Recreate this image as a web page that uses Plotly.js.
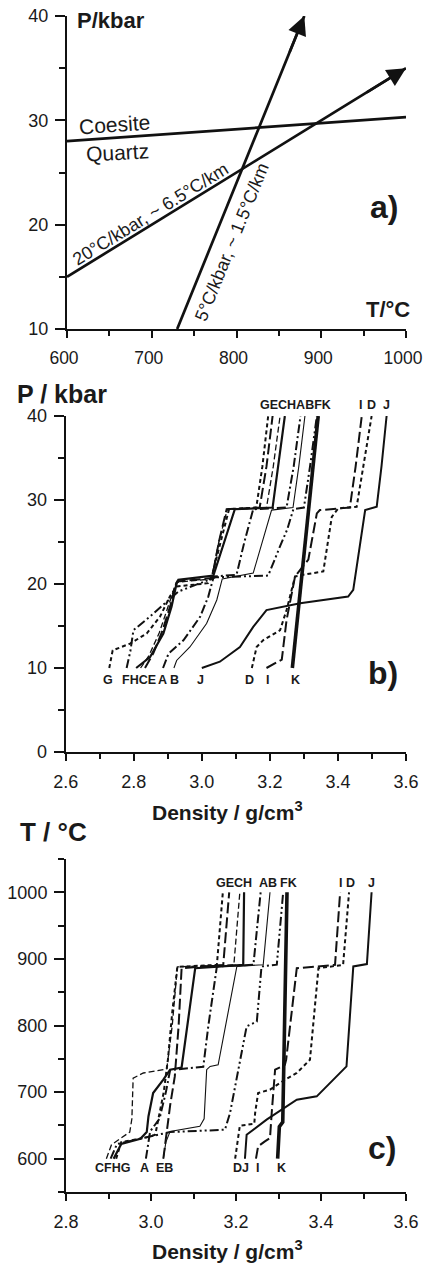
<!DOCTYPE html>
<html><head><meta charset="utf-8">
<script src="https://cdn.plot.ly/plotly-3.0.1.min.js"></script>
<style>html,body{margin:0;padding:0;background:#fff}</style>
</head><body><div id="chart" style="width:423px;height:1263px"></div>
<script>
// ---------- Panel a: P-T diagram ----------
const coesiteT = [600, 1000];
const coesiteP = [28, 30.3];
const geo20T = [600, 1000];
const geo20P = [15, 35];
const geo5T = [730, 880];
const geo5P = [10, 40];

// ---------- Panel b: density vs pressure ----------
const bA_rho = [2.886, 2.902, 2.946, 2.995, 3.019, 3.029, 3.035, 3.102, 3.125, 3.151, 3.249, 3.270, 3.290];
const bA_P   = [10, 11.7, 13.3, 16.1, 18.5, 20.1, 20.9, 21.1, 25, 28.9, 29.1, 34, 40];
const bB_rho = [2.918, 2.926, 2.965, 3.014, 3.044, 3.053, 3.06, 3.151, 3.178, 3.205, 3.268, 3.285, 3.303];
const bB_P   = [10, 10.9, 12.5, 15.3, 18.1, 19.7, 20.6, 21.3, 25, 28.8, 29.1, 34, 40];
const bC_rho = [2.82, 2.845, 2.875, 2.9, 2.915, 2.925, 3.028, 3.05, 3.075, 3.19, 3.21, 3.23];
const bC_P   = [10, 11.5, 14.2, 17.2, 19.2, 20.2, 20.6, 25, 28.9, 29.1, 34, 40];
const bD_rho = [3.147, 3.161, 3.18, 3.23, 3.249, 3.274, 3.298, 3.357, 3.382, 3.401, 3.455, 3.475, 3.499];
const bD_P   = [10, 12.5, 13.3, 14.5, 16.9, 20.9, 21.1, 21.5, 28, 29, 29.2, 34, 40];
const bE_rho = [2.833, 2.858, 2.885, 2.908, 2.92, 2.928, 3.03, 3.05, 3.073, 3.17, 3.19, 3.208];
const bE_P   = [10, 11.8, 14.5, 17.5, 19.5, 20.3, 20.7, 25, 28.9, 29.1, 34, 40];
const bF_rho = [2.779, 2.79, 2.799, 2.85, 2.897, 2.931, 3.04, 3.195, 3.23, 3.251, 3.269, 3.30, 3.318, 3.338];
const bF_P   = [10, 12, 14.5, 16.2, 17.9, 19.1, 20.8, 21.0, 24.5, 26.5, 28.9, 29.1, 34, 40];
const bG_rho = [2.728, 2.738, 2.789, 2.838, 2.877, 2.906, 2.926, 3.019, 3.03, 3.055, 3.08, 3.16, 3.178, 3.195];
const bG_P   = [10, 12.1, 12.9, 14.1, 16.1, 18.5, 19.7, 20.1, 21, 25, 28.9, 29.1, 34, 40];
const bH_rho = [2.807, 2.848, 2.887, 2.911, 2.926, 2.931, 3.034, 3.065, 3.097, 3.208, 3.225, 3.244];
const bH_P   = [10, 11.3, 14.1, 17.3, 20.1, 20.5, 21.0, 25, 28.9, 29.1, 34, 40];
const bI_rho = [3.19, 3.235, 3.249, 3.274, 3.313, 3.338, 3.347, 3.435, 3.452, 3.47];
const bI_P   = [10, 11, 15.7, 20.9, 22.9, 28.4, 28.8, 29.1, 34, 40];
const bJ_rho = [3.0, 3.053, 3.112, 3.151, 3.19, 3.289, 3.43, 3.445, 3.48, 3.514, 3.528, 3.543];
const bJ_P   = [10, 10.75, 12.5, 14.9, 16.9, 17.7, 18.5, 19.3, 28.8, 29.2, 34, 40];
const bK_rho = [3.266, 3.304, 3.342];
const bK_P   = [10, 25, 40];

// ---------- Panel c: density vs temperature ----------
const cA_rho = [2.988, 2.994, 2.998, 3.02, 3.035, 3.045, 3.123, 3.135, 3.155, 3.241, 3.258];
const cA_T   = [600, 625, 641, 660, 700, 733, 738, 800, 888.7, 891.3, 1000];
const cB_rho = [3.029, 3.035, 3.045, 3.115, 3.125, 3.131, 3.139, 3.158, 3.202, 3.264, 3.28];
const cB_T   = [600, 625, 641, 648.6, 660, 733.6, 738.6, 741, 888.7, 891.3, 1000];
const cC_rho = [2.895, 2.907, 2.95, 2.955, 2.958, 2.982, 3.037, 3.05, 3.062, 3.195, 3.209];
const cC_T   = [600, 621, 640, 660, 721, 728.7, 734.7, 800, 888, 891, 1000];
const cD_rho = [3.198, 3.209, 3.243, 3.245, 3.252, 3.28, 3.315, 3.343, 3.374, 3.394, 3.452, 3.466];
const cD_T   = [600, 649.5, 652.5, 668.6, 698.6, 703.6, 718.6, 728.7, 748.6, 886, 891, 1000];
const cE_rho = [3.029, 3.033, 3.037, 3.045, 3.056, 3.065, 3.072, 3.17, 3.184];
const cE_T   = [600, 620, 633, 680, 723.6, 800, 886, 891, 1000];
const cF_rho = [2.905, 2.92, 2.96, 3.0, 3.045, 3.174, 3.186, 3.225, 3.249, 3.26, 3.296, 3.311];
const cF_T   = [600, 622, 628, 634, 640, 643.5, 668.6, 798.6, 806, 888.7, 891.3, 1000];
const cG_rho = [2.918, 2.93, 2.99, 3.01, 3.03, 3.04, 3.05, 3.062, 3.155, 3.169];
const cG_T   = [600, 625, 632, 636, 700, 750, 820, 888, 891, 1000];
const cH_rho = [2.912, 2.93, 2.975, 2.99, 2.994, 3.005, 3.029, 3.045, 3.072, 3.104, 3.217, 3.219];
const cH_T   = [600, 622, 630, 640, 663.5, 698.6, 718.6, 733.6, 737, 886, 891, 1000];
const cI_rho = [3.247, 3.249, 3.252, 3.268, 3.28, 3.284, 3.292, 3.315, 3.318, 3.343, 3.433, 3.445];
const cI_T   = [600, 608.6, 618.5, 626, 631, 668.6, 733.6, 741, 748.6, 886, 891, 1000];
const cJ_rho = [3.221, 3.225, 3.272, 3.343, 3.39, 3.46, 3.476, 3.508, 3.519];
const cJ_T   = [600, 636, 658.6, 688.6, 693.6, 738.6, 888.7, 892.3, 1000];
const cK_rho = [3.298, 3.302, 3.31, 3.32];
const cK_T   = [600, 648, 655, 1000];

// ---------- styles ----------
const FONT = "Liberation Sans, Arial, Helvetica, sans-serif";
const styles = {
  A: {width: 2.0, dash: "9px,3px,2px,3px"},
  B: {width: 1.1, dash: "solid"},
  C: {width: 1.3, dash: "6px,3px"},
  D: {width: 2.0, dash: "4px,3px"},
  E: {width: 2.0, dash: "11px,4px"},
  F: {width: 2.0, dash: "9px,3px,2px,3px,2px,3px"},
  G: {width: 2.0, dash: "4px,3px"},
  H: {width: 2.2, dash: "solid"},
  I: {width: 2.0, dash: "11px,4px"},
  J: {width: 2.0, dash: "solid"},
  K: {width: 3.6, dash: "solid"}
};

const traces = [];
function line(x, y, xa, ya, st) {
  traces.push({x: x, y: y, xaxis: xa, yaxis: ya, type: "scatter", mode: "lines",
    line: {color: "#111", width: st.width, dash: st.dash}, hoverinfo: "skip", showlegend: false});
}
const thick = {width: 2.7, dash: "solid"};
line(coesiteT, coesiteP, "x", "y", thick);
line(geo20T, geo20P, "x", "y", thick);
line(geo5T, geo5P, "x", "y", thick);

const bData = {A:[bA_rho,bA_P],B:[bB_rho,bB_P],C:[bC_rho,bC_P],D:[bD_rho,bD_P],E:[bE_rho,bE_P],
  F:[bF_rho,bF_P],G:[bG_rho,bG_P],H:[bH_rho,bH_P],I:[bI_rho,bI_P],J:[bJ_rho,bJ_P],K:[bK_rho,bK_P]};
const cData = {A:[cA_rho,cA_T],B:[cB_rho,cB_T],C:[cC_rho,cC_T],D:[cD_rho,cD_T],E:[cE_rho,cE_T],
  F:[cF_rho,cF_T],G:[cG_rho,cG_T],H:[cH_rho,cH_T],I:[cI_rho,cI_T],J:[cJ_rho,cJ_T],K:[cK_rho,cK_T]};
Object.keys(bData).forEach(k => line(bData[k][0], bData[k][1], "x2", "y2", styles[k]));
Object.keys(cData).forEach(k => line(cData[k][0], cData[k][1], "x3", "y3", styles[k]));

// ---------- axes ----------
const tickFont = {family: FONT, size: 18, color: "#1a1a1a"};
function xax(range, dtick, minor, dom, anchor) {
  return {range: range, domain: dom, anchor: anchor, dtick: dtick, tick0: range[0],
    ticks: "outside", ticklen: 7, tickwidth: 2, tickcolor: "#111",
    minor: {dtick: minor, ticks: "outside", ticklen: 5, tickwidth: 2, tickcolor: "#111"},
    showline: true, linewidth: 2, linecolor: "#111", showgrid: false, zeroline: false,
    tickfont: tickFont, ticklabelstandoff: 5, ticklabeloverflow: "allow", fixedrange: true};
}
function yax(range, dtick, tick0, minor, dom, anchor) {
  return {range: range, domain: dom, anchor: anchor, dtick: dtick, tick0: tick0,
    ticks: "outside", ticklen: 10, tickwidth: 2, tickcolor: "#111",
    minor: {dtick: minor, tick0: tick0, ticks: "outside", ticklen: 6, tickwidth: 2, tickcolor: "#111"},
    showline: true, linewidth: 2, linecolor: "#111", showgrid: false, zeroline: false,
    tickfont: tickFont, ticklabelstandoff: 3, ticklabeloverflow: "allow", fixedrange: true};
}
const xdA = [67/423, 406/423], ydA = [1 - 329/1263, 1 - 16/1263];
const xdB = [65.7/423, 406/423], ydB = [1 - 752/1263, 1 - 416/1263];
const xdC = [66/423, 406/423], ydC = [1 - 1192/1263, 1 - 859/1263];

// ---------- annotations ----------
const ann = [];
function txt(s, px, py, size, opts) {
  ann.push(Object.assign({text: s, x: px/423, y: 1 - py/1263, xref: "paper", yref: "paper",
    showarrow: false, xanchor: "center", yanchor: "middle",
    font: {family: FONT, size: size, color: "#1a1a1a"}}, opts || {}));
}
// arrow heads at geotherm ends (computed from data)
function arrowHead(T, P) {
  const n = T.length - 1;
  ann.push({x: T[n], y: P[n], xref: "x", yref: "y", axref: "x", ayref: "y",
    ax: T[n] - 0.12 * (T[n] - T[0]), ay: P[n] - 0.12 * (P[n] - P[0]),
    text: "", showarrow: true, arrowhead: 2, arrowsize: 1.45, arrowwidth: 2.6, arrowcolor: "#111"});
}
arrowHead(geo20T, geo20P);
arrowHead(geo5T, geo5P);

txt("<b>P/kbar</b>", 75, 20, 22, {xanchor: "left"});
txt("<b>T/°C</b>", 412, 310, 22, {xanchor: "right"});
txt("<b>a)</b>", 400, 207, 32, {xanchor: "right"});
txt("Coesite", 114, 125, 21, {textangle: -4});
txt("Quartz", 117, 152.5, 21, {textangle: -3});
txt("20°C/kbar, ~ 6.5°C/km", 150.7, 214, 18, {textangle: -31.6});
txt("5°C/kbar, ~ 1.5°C/km", 231.7, 241.7, 18, {textangle: -67.9});

txt("<b>P / kbar</b>", 15, 394, 25, {xanchor: "left"});
txt("<b>GECHABFK</b>", 295, 405, 12.5);
txt("<b>I</b>", 360, 405, 12.5);
txt("<b>D</b>", 371, 405, 12.5);
txt("<b>J</b>", 386, 405, 12.5);
[["G",108.3],["FHCE",139],["A",162.3],["B",174.3],["J",200],["D",250],["I",267.3],["K",295]]
  .forEach(p => txt("<b>" + p[0] + "</b>", p[1], 680, 12.5));
txt("<b>b)</b>", 400, 673, 32, {xanchor: "right"});
txt("<b>Density / g/cm<sup>3</sup></b>", 227, 811, 21);

txt("<b>T / °C</b>", 18, 832, 26, {xanchor: "left"});
[["GECH",234],["AB",268],["FK",288],["I",340],["D",350],["J",371.7]]
  .forEach(p => txt("<b>" + p[0] + "</b>", p[1], 882.7, 12.5));
[["CFHG",112],["A",144.3],["EB",164.5],["DJ",240.5],["I",257.7],["K",281]]
  .forEach(p => txt("<b>" + p[0] + "</b>", p[1], 1168.3, 12.5));
txt("<b>c)</b>", 398, 1148.3, 32, {xanchor: "right"});
txt("<b>Density / g/cm<sup>3</sup></b>", 227, 1250, 21);

const layout = {
  width: 423, height: 1263, margin: {l: 0, r: 0, t: 0, b: 0},
  paper_bgcolor: "#fff", plot_bgcolor: "#fff", showlegend: false,
  font: {family: FONT},
  xaxis: xax([600, 1000], 100, 50, xdA, "y"),
  yaxis: yax([10, 40], 10, 10, 5, ydA, "x"),
  xaxis2: xax([2.6, 3.6], 0.2, 0.1, xdB, "y2"),
  yaxis2: yax([0, 40], 10, 0, 5, ydB, "x2"),
  xaxis3: xax([2.8, 3.6], 0.2, 0.1, xdC, "y3"),
  yaxis3: yax([550, 1050], 100, 600, 50, ydC, "x3"),
  annotations: ann
};
layout.xaxis.tickfont = {family: FONT, size: 17.5, color: "#1a1a1a"};
layout.xaxis.ticklabelshift = -3;
layout.xaxis2.tickformat = ".1f";
layout.xaxis3.tickformat = ".1f";
Plotly.newPlot("chart", traces, layout, {staticPlot: true, displayModeBar: false});
</script></body></html>
